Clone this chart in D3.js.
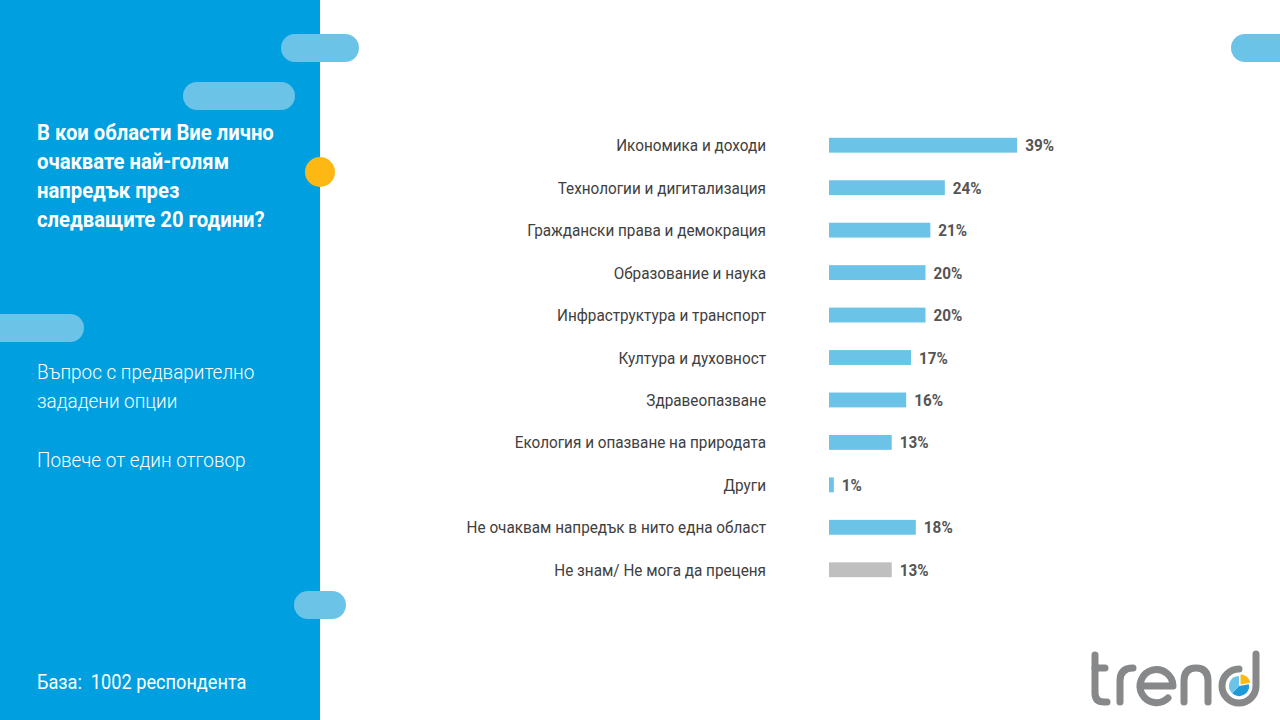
<!DOCTYPE html>
<html>
<head>
<meta charset="utf-8">
<title>trend</title>
<script src="https://cdnjs.cloudflare.com/ajax/libs/d3/7.8.5/d3.min.js"></script>
<style>
  body { margin: 0; background: #fff; }
  text { font-family: Roboto, "Noto Sans", sans-serif; white-space: pre; }
</style>
</head>
<body>
<script>
const categories = [
  "Икономика и доходи",
  "Технологии и дигитализация",
  "Граждански права и демокрация",
  "Образование и наука",
  "Инфраструктура и транспорт",
  "Култура и духовност",
  "Здравеопазване",
  "Екология и опазване на природата",
  "Други",
  "Не очаквам напредък в нито една област",
  "Не знам/ Не мога да преценя"
];
const values = [39, 24, 21, 20, 20, 17, 16, 13, 1, 18, 13];
const titleLines = ["В кои области Вие лично", "очаквате най-голям", "напредък през", "следващите 20 години?"];
const noteLines = ["Въпрос с предварително", "зададени опции"];
const note2 = "Повече от един отговор";
const base = "База:  1002 респондента";

const W = 1280, H = 720;
const sx = 0.9; // condensed look

const svg = d3.select("body").append("svg").attr("width", W).attr("height", H);

// left panel
svg.append("rect").attr("x", 0).attr("y", 0).attr("width", 320).attr("height", H).attr("fill", "#009fdf");

// decorative pills
const pill = "#6cc3e8";
[[281, 34, 78], [183, 82, 112], [-20, 314, 104], [294, 591, 52], [1231, 34, 80]].forEach(p => {
  svg.append("rect").attr("x", p[0]).attr("y", p[1]).attr("width", p[2]).attr("height", 28)
    .attr("rx", 14).attr("fill", pill);
});
svg.append("circle").attr("cx", 320).attr("cy", 172).attr("r", 15).attr("fill", "#fdb813");

function ctext(x, y, str, opts) {
  const g = svg.append("g").attr("transform", `translate(${x},${y}) scale(${sx},1)`);
  return g.append("text").text(str)
    .attr("font-size", opts.size).attr("font-weight", opts.weight || 400)
    .attr("fill", opts.fill).attr("text-anchor", opts.anchor || "start");
}

titleLines.forEach((l, i) => ctext(37, 140 + i * 29, l, {size: 22.5, weight: 700, fill: "#fff"}));
noteLines.forEach((l, i) => ctext(37, 379 + i * 29, l, {size: 21, weight: 300, fill: "#fff"}));
ctext(37, 467, note2, {size: 21, weight: 300, fill: "#fff"});
ctext(37, 689, base, {size: 20.2, weight: 400, fill: "#fff"});

// chart
const x = d3.scaleLinear().domain([0, 40]).range([829, 829 + 193]);
const y = d3.scaleBand().domain(categories).range([124, 591]).paddingInner(0.65).paddingOuter(0.325);

svg.append("g").selectAll("rect").data(categories).join("rect")
  .attr("x", x(0))
  .attr("y", d => y(d))
  .attr("width", (d, i) => x(values[i]) - x(0))
  .attr("height", y.bandwidth())
  .attr("fill", (d, i) => i === categories.length - 1 ? "#bfbfbf" : "#6cc3e8");

categories.forEach((c, i) => {
  const cy = y(c) + y.bandwidth() / 2 + 6;
  ctext(766, cy, c, {size: 17, weight: 400, fill: "#404040", anchor: "end"});
  ctext(x(values[i]) + 8, cy, values[i] + "%", {size: 17, weight: 700, fill: "#555"});
});

// logo "trend"
const logo = svg.append("g").attr("fill", "none").attr("stroke", "#87888a")
  .attr("stroke-width", 7).attr("stroke-linecap", "round").attr("stroke-linejoin", "round");
logo.append("path").attr("d", "M1095,655 V693 Q1095,702 1104,702 H1107");
logo.append("path").attr("d", "M1095,668 H1105");
logo.append("path").attr("d", "M1120,702 V681 Q1120,668 1133,668");
logo.append("path").attr("d", "M1141,686 H1173 A16.5 16.5 0 1 0 1168,698");
logo.append("path").attr("d", "M1184,702 V681 Q1184,668 1196,668 Q1208,668 1208,681 V702");
logo.append("path").attr("d", "M1256,654 V686 A17 17 0 1 1 1239,669");
const arc = d3.arc().innerRadius(0).outerRadius(10);
const pie = d3.pie().sort(null)([0.22, 0.4, 0.38]);
const pg = svg.append("g").attr("transform", "translate(1239,686)");
pg.append("path").attr("d", arc(pie[0])).attr("fill", "#fdb813").attr("transform", "translate(1.5,-1.5)");
pg.append("path").attr("d", arc(pie[1])).attr("fill", "#1d9ad8");
pg.append("path").attr("d", arc(pie[2])).attr("fill", "#6cc3e8");
</script>
</body>
</html>
